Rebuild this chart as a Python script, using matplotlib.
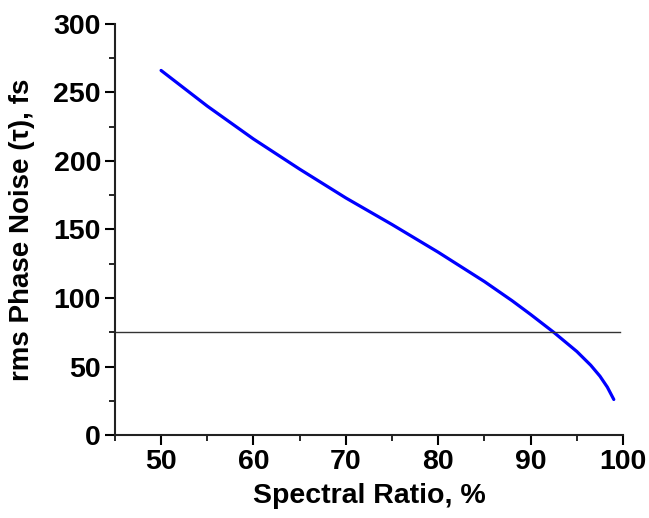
import matplotlib
matplotlib.use("Agg")
import matplotlib.pyplot as plt
from matplotlib.ticker import MultipleLocator

# curve
ratio = [50, 55, 60, 65, 70, 75, 80, 85, 88, 90, 92.5, 95, 96.5, 97.5, 98.3, 99]
noise = [266, 240, 216, 194, 173, 153.6, 133.4, 112, 98, 88, 75, 61, 51, 43, 35, 26]
threshold = 75
line_x = [45, 99.7]

plt.rcParams["font.family"] = ["Liberation Sans", "DejaVu Sans"]
plt.rcParams["font.weight"] = "bold"

fig = plt.figure(figsize=(6.49, 5.18), dpi=100)
ax = fig.add_axes([0.177, 0.160, 0.783, 0.794])

ax.plot(ratio, noise, color="#0000ff", lw=2.3, solid_capstyle="round")
ax.plot(line_x, [threshold, threshold], color="#333333", lw=1.0)

ax.set_xlim(45, 100)
ax.set_ylim(0, 300)
ax.xaxis.set_major_locator(MultipleLocator(10))
ax.xaxis.set_minor_locator(MultipleLocator(5))
ax.yaxis.set_major_locator(MultipleLocator(50))
ax.yaxis.set_minor_locator(MultipleLocator(25))
ax.set_xticks([50, 60, 70, 80, 90, 100])

for s in ("top", "right"):
    ax.spines[s].set_visible(False)
for s in ("left", "bottom"):
    ax.spines[s].set_linewidth(1.5)
    ax.spines[s].set_color("#222222")

ax.tick_params(which="major", direction="out", length=7, width=1.5, labelsize=20.5, pad=3)
ax.tick_params(which="minor", direction="out", length=4, width=1.2)
for lab in ax.get_xticklabels() + ax.get_yticklabels():
    lab.set_fontweight("bold")

ax.set_xlabel("Spectral Ratio, %", fontsize=20.5, fontweight="bold", labelpad=6)
ax.set_ylabel("rms Phase Noise (τ), fs", fontsize=20, fontweight="bold", labelpad=13)

fig.savefig("out.png", dpi=100)
